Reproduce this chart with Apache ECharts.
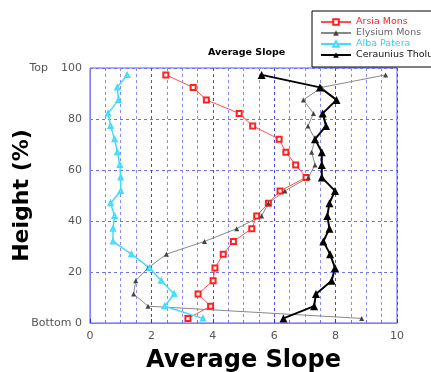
<!DOCTYPE html>
<html>
<head>
<meta charset="utf-8">
<script src="https://cdn.jsdelivr.net/npm/echarts@6/dist/echarts.min.js"></script>
<style>
  html, body { margin: 0; padding: 0; background: #fff; }
  #chart { width: 431px; height: 372px; }
</style>
</head>
<body>
<div id="chart"></div>
<script>
// height (%) of each sample, top to bottom
var heights = [97.3, 92.4, 87.5, 82.2, 77.3, 72.1, 67.0, 62.0, 57.1, 51.8, 47.0, 42.0, 37.0, 32.0, 27.0, 21.6, 16.6, 11.4, 6.6, 1.8];

// average slope per volcano at each height
var arsiaMons = [2.47, 3.36, 3.79, 4.86, 5.30, 6.16, 6.38, 6.70, 7.04, 6.19, 5.81, 5.43, 5.27, 4.67, 4.34, 4.07, 4.01, 3.52, 3.93, 3.19];
var elysiumMons = [9.63, 7.55, 6.95, 7.28, 7.10, 7.33, 7.22, 7.33, 7.11, 6.35, 5.81, 5.59, 4.78, 3.73, 2.49, 1.89, 1.49, 1.42, 1.89, 8.85];
var albaPatera = [1.21, 0.89, 0.93, 0.59, 0.67, 0.80, 0.89, 0.97, 1.00, 1.00, 0.67, 0.80, 0.75, 0.75, 1.35, 1.94, 2.32, 2.74, 2.43, 3.68];
var ceraunius = [5.59, 7.49, 8.03, 7.58, 7.69, 7.33, 7.55, 7.55, 7.55, 7.98, 7.80, 7.73, 7.80, 7.60, 7.82, 7.98, 7.87, 7.36, 7.30, 6.30];

function pairs(vals) {
  return vals.map(function (v, i) { return [v, heights[i]]; });
}

var gridBlue = "#6f6fee";
var chart = echarts.init(document.getElementById("chart"));

chart.setOption({
  animation: false,
  title: {
    text: "Average Slope",
    left: 203,
    top: 43,
    textStyle: { fontFamily: "DejaVu Sans", fontWeight: "bold", fontSize: 9.5, color: "#000" }
  },
  legend: {
    orient: "vertical",
    left: 312,
    top: 11,
    padding: [6, 8, 7, 8],
    borderColor: "#000",
    borderWidth: 1,
    itemWidth: 30,
    itemHeight: 7,
    itemGap: 1,
    textStyle: { fontFamily: "DejaVu Sans", fontSize: 9.5, lineHeight: 10, color: "#555" },
    data: [
      { name: "Arsia Mons", textStyle: { color: "#ff2020" } },
      { name: "Elysium Mons", textStyle: { color: "#666" } },
      { name: "Alba Patera", textStyle: { color: "#33ccff" } },
      { name: "Ceraunius Tholus", textStyle: { color: "#111" } }
    ]
  },
  grid: {
    left: 90,
    right: 34,
    top: 68,
    bottom: 49,
    outerBoundsMode: "none",
    containLabel: false,
    show: true,
    borderColor: "#5858f0",
    borderWidth: 1
  },
  xAxis: {
    type: "value",
    min: 0,
    max: 10,
    interval: 2,
    name: "Average Slope",
    nameLocation: "middle",
    nameGap: 26,
    nameMoveOverlap: false,
    nameTextStyle: { fontFamily: "DejaVu Sans", fontWeight: "bold", fontSize: 24, color: "#000" },
    axisLine: { lineStyle: { color: "#8080f0" } },
    axisTick: { inside: true, length: 4, lineStyle: { color: "#3030e0" } },
    minorTick: { show: true, splitNumber: 4, length: 3, lineStyle: { color: gridBlue } },
    axisLabel: { fontFamily: "DejaVu Sans", fontSize: 11, color: "#555", margin: 8 },
    splitLine: { show: true, lineStyle: { color: "#4a4ae8", type: [3, 3], width: 1 } },
    minorSplitLine: { show: true, lineStyle: { color: "#8a8af2", type: [3, 3], width: 1 } }
  },
  yAxis: {
    type: "value",
    min: 0,
    max: 100,
    interval: 20,
    name: "Height (%)",
    nameLocation: "middle",
    nameGap: 57,
    nameRotate: 90,
    nameMoveOverlap: false,
    nameTextStyle: { fontFamily: "DejaVu Sans", fontWeight: "bold", fontSize: 22, color: "#000" },
    axisLine: { show: true, lineStyle: { color: "#8080f0" } },
    axisTick: { show: false },
    axisLabel: {
      fontFamily: "DejaVu Sans", fontSize: 11, color: "#555", margin: 8,
      formatter: function (v) {
        if (v === 100) return "{t|Top}100";
        if (v === 0) return "Bottom 0";
        return String(v);
      },
      rich: { t: { fontFamily: "DejaVu Sans", fontSize: 11, color: "#555", padding: [0, 13, 0, 0] } }
    },
    splitLine: { show: true, lineStyle: { color: "#7070ee", type: [3, 3], width: 1 } }
  },
  series: [
    {
      name: "Arsia Mons",
      type: "line",
      data: pairs(arsiaMons),
      color: "#ff3030",
      symbol: "emptyRect",
      symbolSize: 5,
      lineStyle: { width: 1, color: "#ff5050" },
      itemStyle: { color: "#ff2020", borderWidth: 1 }
    },
    {
      name: "Elysium Mons",
      type: "line",
      data: pairs(elysiumMons),
      color: "#555",
      symbol: "triangle",
      symbolSize: 5,
      lineStyle: { width: 1, color: "#888" },
      itemStyle: { color: "#444" }
    },
    {
      name: "Alba Patera",
      type: "line",
      data: pairs(albaPatera),
      color: "#33ddff",
      symbol: "emptyTriangle",
      symbolSize: 4,
      lineStyle: { width: 1.5, color: "#40dcff" },
      itemStyle: { color: "#40dcff", borderWidth: 1 }
    },
    {
      name: "Ceraunius Tholus",
      type: "line",
      data: pairs(ceraunius),
      color: "#000",
      symbol: "triangle",
      symbolSize: 8,
      lineStyle: { width: 2, color: "#000" },
      itemStyle: { color: "#000" }
    }
  ]
});
</script>
</body>
</html>
